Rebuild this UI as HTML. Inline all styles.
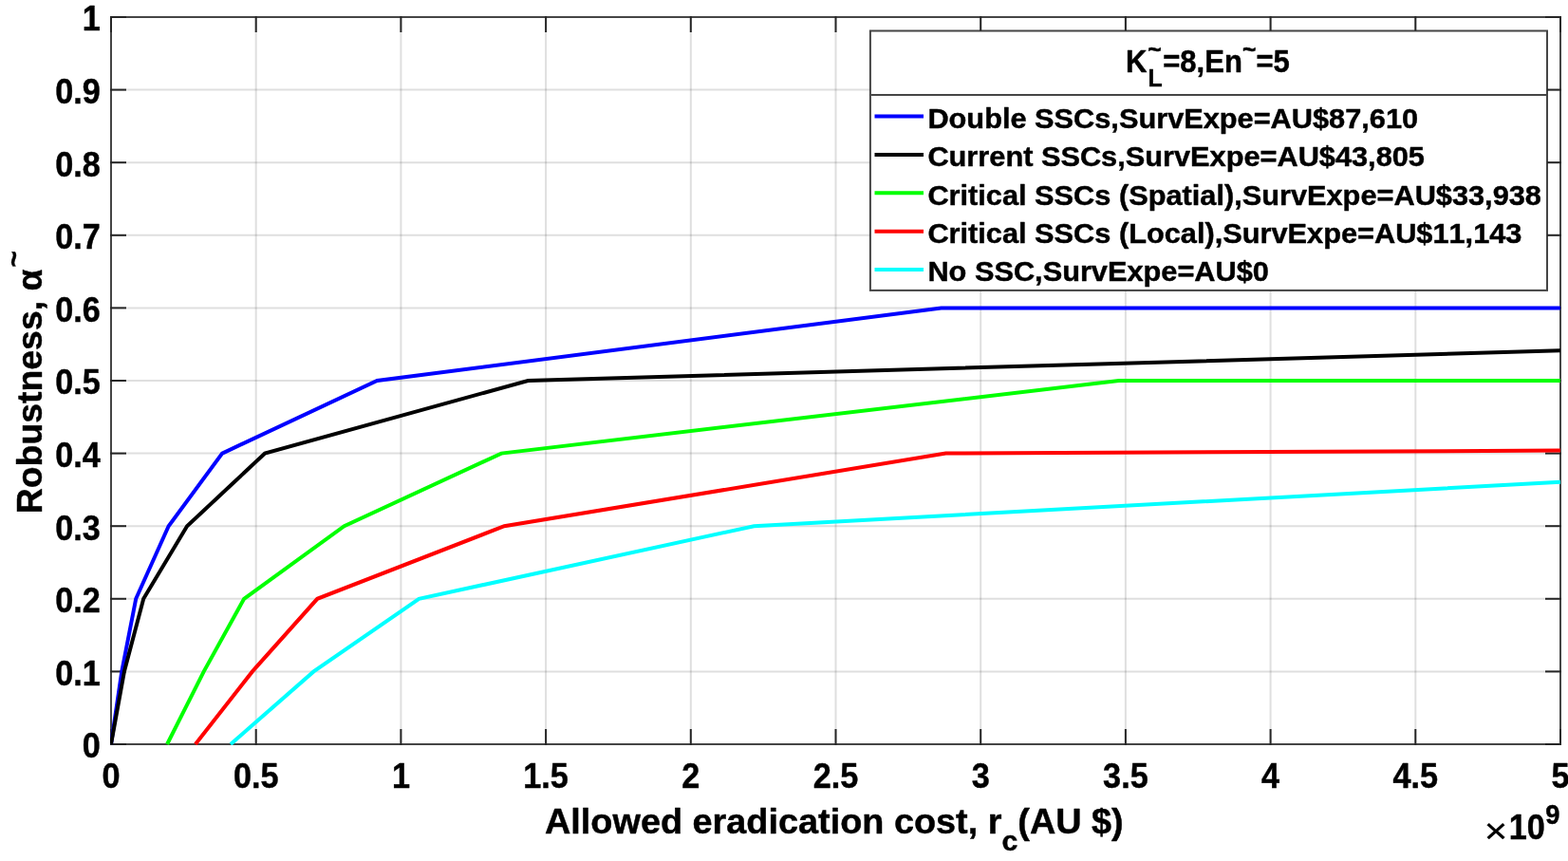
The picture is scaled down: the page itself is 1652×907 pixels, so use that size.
<!DOCTYPE html>
<html lang="en">
<head>
<meta charset="utf-8">
<title>Robustness vs allowed eradication cost</title>
<style>
html,body{margin:0;padding:0;background:#fff;}
body{width:1652px;height:907px;overflow:hidden;}
svg{display:block;}
text{font-family:"Liberation Sans",Arial,Helvetica,sans-serif;font-weight:bold;fill:#000;stroke:#000;stroke-width:0.45px;stroke-linejoin:round;font-kerning:none;}
.tk{font-size:36.50px;}
.xl{font-size:37.40px;}
.yl{font-size:37.80px;}
.lg{font-size:30.00px;}
.lt{font-size:32.30px;}
.s{font-size:80%;}
.lt .s{font-size:25.80px;}
.mul{font-size:37.50px;font-weight:normal;stroke-width:0.3px;}
</style>
</head>
<body>
<svg width="1652" height="907" viewBox="0 0 1652 907">
<rect x="0" y="0" width="1652" height="907" fill="#ffffff"/>
<defs><clipPath id="axclip"><rect x="116" y="17" width="1529" height="768"/></clipPath></defs>
<g stroke="#262626" stroke-opacity="0.150" stroke-width="2" fill="none">
<line x1="269.70" y1="19.00" x2="269.70" y2="783.00"/>
<line x1="422.40" y1="19.00" x2="422.40" y2="783.00"/>
<line x1="575.10" y1="19.00" x2="575.10" y2="783.00"/>
<line x1="727.80" y1="19.00" x2="727.80" y2="783.00"/>
<line x1="880.50" y1="19.00" x2="880.50" y2="783.00"/>
<line x1="1033.20" y1="19.00" x2="1033.20" y2="783.00"/>
<line x1="1185.90" y1="19.00" x2="1185.90" y2="783.00"/>
<line x1="1338.60" y1="19.00" x2="1338.60" y2="783.00"/>
<line x1="1491.30" y1="19.00" x2="1491.30" y2="783.00"/>
<line x1="118.00" y1="707.40" x2="1643.00" y2="707.40"/>
<line x1="118.00" y1="630.80" x2="1643.00" y2="630.80"/>
<line x1="118.00" y1="554.20" x2="1643.00" y2="554.20"/>
<line x1="118.00" y1="477.60" x2="1643.00" y2="477.60"/>
<line x1="118.00" y1="401.00" x2="1643.00" y2="401.00"/>
<line x1="118.00" y1="324.40" x2="1643.00" y2="324.40"/>
<line x1="118.00" y1="247.80" x2="1643.00" y2="247.80"/>
<line x1="118.00" y1="171.20" x2="1643.00" y2="171.20"/>
<line x1="118.00" y1="94.60" x2="1643.00" y2="94.60"/>
</g>
<rect x="117.00" y="18.00" width="1527.00" height="766.00" fill="none" stroke="#262626" stroke-opacity="0.860" stroke-width="2"/>
<g stroke="#262626" stroke-width="2" fill="none">
<line x1="117.00" y1="785.00" x2="117.00" y2="768.00"/>
<line x1="117.00" y1="17.00" x2="117.00" y2="34.00"/>
<line x1="269.70" y1="785.00" x2="269.70" y2="768.00"/>
<line x1="269.70" y1="17.00" x2="269.70" y2="34.00"/>
<line x1="422.40" y1="785.00" x2="422.40" y2="768.00"/>
<line x1="422.40" y1="17.00" x2="422.40" y2="34.00"/>
<line x1="575.10" y1="785.00" x2="575.10" y2="768.00"/>
<line x1="575.10" y1="17.00" x2="575.10" y2="34.00"/>
<line x1="727.80" y1="785.00" x2="727.80" y2="768.00"/>
<line x1="727.80" y1="17.00" x2="727.80" y2="34.00"/>
<line x1="880.50" y1="785.00" x2="880.50" y2="768.00"/>
<line x1="880.50" y1="17.00" x2="880.50" y2="34.00"/>
<line x1="1033.20" y1="785.00" x2="1033.20" y2="768.00"/>
<line x1="1033.20" y1="17.00" x2="1033.20" y2="34.00"/>
<line x1="1185.90" y1="785.00" x2="1185.90" y2="768.00"/>
<line x1="1185.90" y1="17.00" x2="1185.90" y2="34.00"/>
<line x1="1338.60" y1="785.00" x2="1338.60" y2="768.00"/>
<line x1="1338.60" y1="17.00" x2="1338.60" y2="34.00"/>
<line x1="1491.30" y1="785.00" x2="1491.30" y2="768.00"/>
<line x1="1491.30" y1="17.00" x2="1491.30" y2="34.00"/>
<line x1="1644.00" y1="785.00" x2="1644.00" y2="768.00"/>
<line x1="1644.00" y1="17.00" x2="1644.00" y2="34.00"/>
<line x1="116.00" y1="784.00" x2="133.00" y2="784.00"/>
<line x1="1645.00" y1="784.00" x2="1628.00" y2="784.00"/>
<line x1="116.00" y1="707.40" x2="133.00" y2="707.40"/>
<line x1="1645.00" y1="707.40" x2="1628.00" y2="707.40"/>
<line x1="116.00" y1="630.80" x2="133.00" y2="630.80"/>
<line x1="1645.00" y1="630.80" x2="1628.00" y2="630.80"/>
<line x1="116.00" y1="554.20" x2="133.00" y2="554.20"/>
<line x1="1645.00" y1="554.20" x2="1628.00" y2="554.20"/>
<line x1="116.00" y1="477.60" x2="133.00" y2="477.60"/>
<line x1="1645.00" y1="477.60" x2="1628.00" y2="477.60"/>
<line x1="116.00" y1="401.00" x2="133.00" y2="401.00"/>
<line x1="1645.00" y1="401.00" x2="1628.00" y2="401.00"/>
<line x1="116.00" y1="324.40" x2="133.00" y2="324.40"/>
<line x1="1645.00" y1="324.40" x2="1628.00" y2="324.40"/>
<line x1="116.00" y1="247.80" x2="133.00" y2="247.80"/>
<line x1="1645.00" y1="247.80" x2="1628.00" y2="247.80"/>
<line x1="116.00" y1="171.20" x2="133.00" y2="171.20"/>
<line x1="1645.00" y1="171.20" x2="1628.00" y2="171.20"/>
<line x1="116.00" y1="94.60" x2="133.00" y2="94.60"/>
<line x1="1645.00" y1="94.60" x2="1628.00" y2="94.60"/>
<line x1="116.00" y1="18.00" x2="133.00" y2="18.00"/>
<line x1="1645.00" y1="18.00" x2="1628.00" y2="18.00"/>
</g>
<g clip-path="url(#axclip)" fill="none" stroke-width="4.00" stroke-linejoin="miter" stroke-linecap="butt">
<polyline stroke="#0000ff" points="117.00,784.00 128.30,707.40 143.20,630.80 177.62,554.20 234.12,477.60 397.36,401.00 991.60,324.40 1644.00,324.40"/>
<polyline stroke="#000000" points="117.00,784.00 130.90,707.40 151.20,630.80 197.08,554.20 279.11,477.60 556.32,401.00 1644.00,369.29"/>
<polyline stroke="#00ff00" points="176.09,784.00 214.73,707.40 257.09,630.80 362.69,554.20 528.22,477.60 1178.81,401.00 1644.00,401.00"/>
<polyline stroke="#ff0000" points="205.87,784.00 265.88,707.40 334.29,630.80 531.31,554.20 996.49,477.60 1644.00,474.61"/>
<polyline stroke="#00ffff" points="242.98,784.00 330.47,707.40 441.40,630.80 794.41,554.20 1644.00,507.70"/>
</g>
<text class="tk" text-anchor="end" transform="translate(105.90,798.30) scale(0.9377,1)">0</text>
<text class="tk" text-anchor="end" transform="translate(105.90,721.70) scale(0.9377,1)">0.1</text>
<text class="tk" text-anchor="end" transform="translate(105.90,645.10) scale(0.9377,1)">0.2</text>
<text class="tk" text-anchor="end" transform="translate(105.90,568.50) scale(0.9377,1)">0.3</text>
<text class="tk" text-anchor="end" transform="translate(105.90,491.90) scale(0.9377,1)">0.4</text>
<text class="tk" text-anchor="end" transform="translate(105.90,415.30) scale(0.9377,1)">0.5</text>
<text class="tk" text-anchor="end" transform="translate(105.90,338.70) scale(0.9377,1)">0.6</text>
<text class="tk" text-anchor="end" transform="translate(105.90,262.10) scale(0.9377,1)">0.7</text>
<text class="tk" text-anchor="end" transform="translate(105.90,185.50) scale(0.9377,1)">0.8</text>
<text class="tk" text-anchor="end" transform="translate(105.90,108.90) scale(0.9377,1)">0.9</text>
<text class="tk" text-anchor="end" transform="translate(105.90,32.30) scale(0.9377,1)">1</text>
<text class="tk" text-anchor="middle" transform="translate(117.00,829.60) scale(0.9377,1)">0</text>
<text class="tk" text-anchor="middle" transform="translate(269.70,829.60) scale(0.9377,1)">0.5</text>
<text class="tk" text-anchor="middle" transform="translate(422.40,829.60) scale(0.9377,1)">1</text>
<text class="tk" text-anchor="middle" transform="translate(575.10,829.60) scale(0.9377,1)">1.5</text>
<text class="tk" text-anchor="middle" transform="translate(727.80,829.60) scale(0.9377,1)">2</text>
<text class="tk" text-anchor="middle" transform="translate(880.50,829.60) scale(0.9377,1)">2.5</text>
<text class="tk" text-anchor="middle" transform="translate(1033.20,829.60) scale(0.9377,1)">3</text>
<text class="tk" text-anchor="middle" transform="translate(1185.90,829.60) scale(0.9377,1)">3.5</text>
<text class="tk" text-anchor="middle" transform="translate(1338.60,829.60) scale(0.9377,1)">4</text>
<text class="tk" text-anchor="middle" transform="translate(1491.30,829.60) scale(0.9377,1)">4.5</text>
<text class="tk" text-anchor="middle" transform="translate(1644.00,829.60) scale(0.9377,1)">5</text>
<text class="mul" transform="translate(1563.70,887.80) scale(1.1200,1)">×</text>
<text class="tk" transform="translate(1589.80,883.80) scale(0.9377,1)">10<tspan class="s" dx="0.40" dy="-16.00">9</tspan></text>
<text class="xl" transform="translate(574.00,878.10) scale(1.0120,1)">Allowed eradication cost, r<tspan class="s" dy="17.80">c</tspan><tspan dy="-17.80">(AU $)</tspan></text>
<text class="yl" transform="translate(44.20,541.20) rotate(-90) scale(0.9890,1)">Robustness, α<tspan class="s" dx="2.20" dy="-18.80">~</tspan></text>
<rect x="916.90" y="32.50" width="713.10" height="273.40" fill="#ffffff" stroke="#262626" stroke-opacity="0.860" stroke-width="2"/>
<line x1="917.90" y1="100.00" x2="1629.00" y2="100.00" stroke="#262626" stroke-opacity="0.860" stroke-width="2"/>
<text class="lt" transform="translate(1186.00,76.30) scale(0.9620,1)">K<tspan class="s" dx="1.00" dy="14.60">L</tspan><tspan class="s" dx="-16.00" dy="-29.90">~</tspan><tspan dx="1.60" dy="15.30">=8,En</tspan><tspan class="s" dy="-15.30">~</tspan><tspan dy="15.30">=5</tspan></text>
<line x1="921.5" y1="122.50" x2="973" y2="122.50" stroke="#0000ff" stroke-width="4.00"/>
<text class="lg" transform="translate(977.40,134.75) scale(1.0250,1)">Double SSCs,SurvExpe=AU$87,610</text>
<line x1="921.5" y1="162.90" x2="973" y2="162.90" stroke="#000000" stroke-width="4.00"/>
<text class="lg" transform="translate(977.40,175.15) scale(1.0250,1)">Current SSCs,SurvExpe=AU$43,805</text>
<line x1="921.5" y1="203.30" x2="973" y2="203.30" stroke="#00ff00" stroke-width="4.00"/>
<text class="lg" transform="translate(977.40,215.55) scale(1.0250,1)">Critical SSCs (Spatial),SurvExpe=AU$33,938</text>
<line x1="921.5" y1="243.70" x2="973" y2="243.70" stroke="#ff0000" stroke-width="4.00"/>
<text class="lg" transform="translate(977.40,255.95) scale(1.0250,1)">Critical SSCs (Local),SurvExpe=AU$11,143</text>
<line x1="921.5" y1="284.10" x2="973" y2="284.10" stroke="#00ffff" stroke-width="4.00"/>
<text class="lg" transform="translate(977.40,296.35) scale(1.0250,1)">No SSC,SurvExpe=AU$0</text>
</svg>
</body>
</html>
